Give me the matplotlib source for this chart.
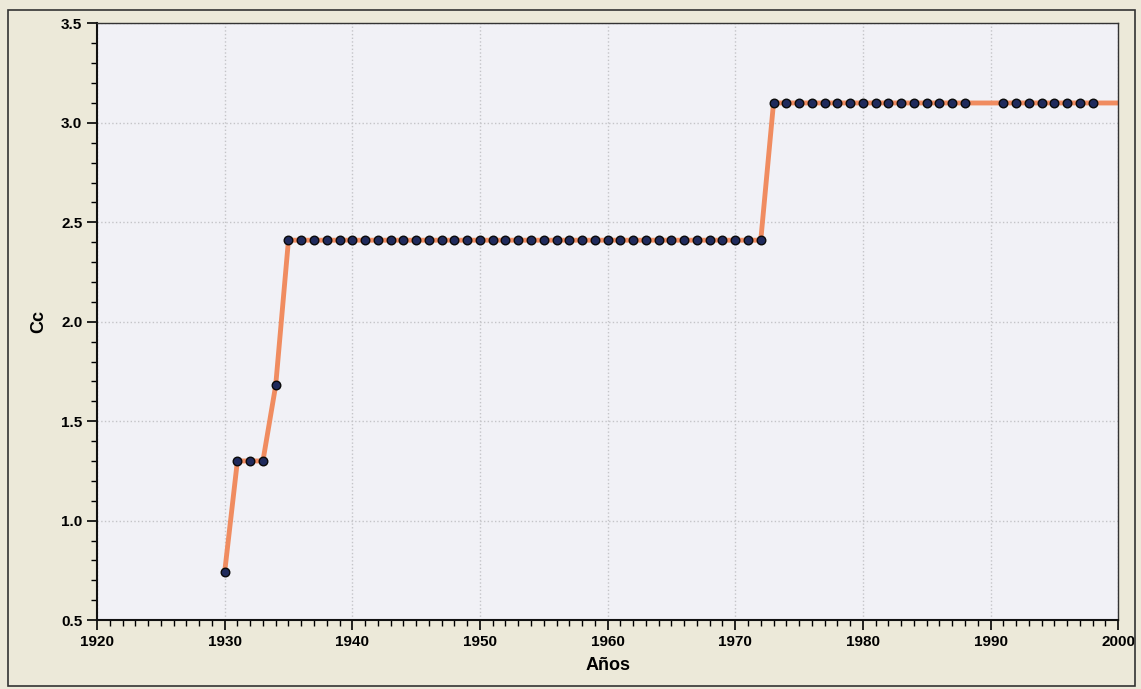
import matplotlib
matplotlib.use("Agg")
import matplotlib.pyplot as plt
from matplotlib.ticker import MultipleLocator
from matplotlib.patches import Rectangle

# Data
years_pts = [1930, 1931, 1932, 1933, 1934] + list(range(1935, 1973)) + list(range(1973, 1989)) + list(range(1991, 1999))
cc_pts = [0.74, 1.30, 1.30, 1.30, 1.68] + [2.41] * 38 + [3.10] * 16 + [3.10] * 8

line_years = [1930, 1931, 1932, 1933, 1934] + list(range(1935, 1973)) + list(range(1973, 2001))
line_cc = [0.74, 1.30, 1.30, 1.30, 1.68] + [2.41] * 38 + [3.10] * 28

x_ticks = [1920, 1930, 1940, 1950, 1960, 1970, 1980, 1990, 2000]
y_ticks = [0.5, 1.0, 1.5, 2.0, 2.5, 3.0, 3.5]

plt.rcParams['font.family'] = ['Liberation Sans', 'DejaVu Sans']

fig = plt.figure(figsize=(11.41, 6.89), dpi=100)
fig.patch.set_facecolor('#ece9d9')
fig.patches.append(Rectangle((0.007, 0.005), 0.988, 0.98, transform=fig.transFigure,
                             fill=False, edgecolor='#333333', linewidth=1.2))
ax = fig.add_axes([0.085, 0.100, 0.895, 0.866])
ax.set_facecolor('#f1f1f6')

ax.plot(line_years, line_cc, color='#f08c60', linewidth=3.5, zorder=2)
ax.scatter(years_pts, cc_pts, s=38, color='#1f2a5c', edgecolor='#0a0a0a', linewidth=1.0, zorder=3)

ax.set_xlim(1920, 2000)
ax.set_ylim(0.5, 3.5)
ax.set_xticks(x_ticks)
ax.set_yticks(y_ticks)
ax.set_yticklabels([f"{v:.1f}" for v in y_ticks])
ax.xaxis.set_minor_locator(MultipleLocator(1))
ax.yaxis.set_minor_locator(MultipleLocator(0.1))
ax.tick_params(axis='both', which='major', length=7, width=1.2, labelsize=11, direction='out')
ax.tick_params(axis='both', which='minor', length=4, width=1.0, direction='out')
for lab in ax.get_xticklabels() + ax.get_yticklabels():
    lab.set_fontweight('bold')

ax.grid(True, which='major', color='#c4c4c8', linestyle=':', linewidth=1.0)
ax.set_axisbelow(True)

for s in ['left', 'bottom']:
    ax.spines[s].set_linewidth(1.5)
    ax.spines[s].set_color('#111111')
ax.spines['top'].set_linewidth(1.0)
ax.spines['top'].set_color('#333333')
ax.spines['right'].set_linewidth(1.0)
ax.spines['right'].set_color('#333333')

ax.set_xlabel('Años', fontsize=13, fontweight='bold', labelpad=6)
ax.set_ylabel('Cc', fontsize=13, fontweight='bold', labelpad=10)

fig.savefig('out.png', dpi=100, facecolor=fig.get_facecolor())
